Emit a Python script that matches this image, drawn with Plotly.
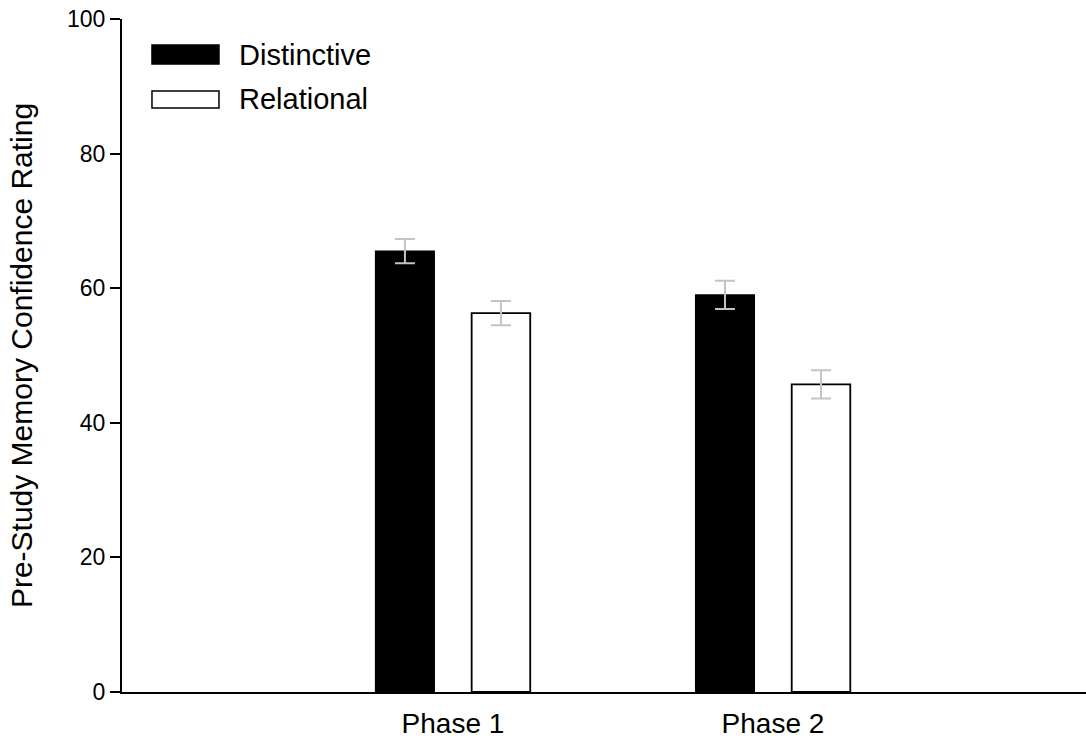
import plotly.graph_objects as go

phases = ["Phase 1", "Phase 2"]
distinctive = [65.5, 59.0]
distinctive_err = [1.8, 2.1]
relational = [56.3, 45.7]
relational_err = [1.8, 2.1]
y_ticks = [0, 20, 40, 60, 80, 100]

FONT = "Liberation Sans, Arial, sans-serif"
ERR_COLOR = "#c4c4c4"

fig = go.Figure()
fig.add_trace(go.Bar(
    name="Distinctive", x=phases, y=distinctive,
    marker=dict(color="black", line=dict(color="black", width=1.5)),
    error_y=dict(type="data", array=distinctive_err, color=ERR_COLOR, thickness=2, width=10),
    showlegend=False,
))
fig.add_trace(go.Bar(
    name="Relational", x=phases, y=relational,
    marker=dict(color="white", line=dict(color="black", width=1.8)),
    error_y=dict(type="data", array=relational_err, color=ERR_COLOR, thickness=2, width=10),
    showlegend=False,
))

# manual legend (large swatches as in the reference)
legend_items = [("Distinctive", "black", 0.9331, 0.9614, 0.9465),
                ("Relational", "white", 0.8678, 0.8930, 0.8811)]
for label, col, y0, y1, yt in legend_items:
    fig.add_shape(type="rect", xref="paper", yref="paper",
                  x0=0.0311, x1=0.1006, y0=y0, y1=y1,
                  fillcolor=col, line=dict(color="black", width=1.5))
    fig.add_annotation(text=label, xref="paper", yref="paper", x=0.1193, y=yt,
                       xanchor="left", yanchor="middle", showarrow=False,
                       font=dict(family=FONT, size=29, color="black"))

fig.update_layout(
    width=1086, height=740,
    margin=dict(l=122, r=0, t=19, b=48),
    paper_bgcolor="white", plot_bgcolor="white",
    barmode="group", bargap=0.4, bargroupgap=0.39,
    font=dict(family=FONT, color="black"),
)
fig.update_xaxes(
    type="category", range=[-1.034, 1.978], automargin=False,
    showline=True, linecolor="black", linewidth=2,
    ticks="outside", ticklen=5, tickcolor="rgba(0,0,0,0)",
    tickfont=dict(family=FONT, size=28, color="black"),
    showgrid=False, zeroline=False,
)
fig.update_yaxes(
    range=[0, 100], tickvals=y_ticks, automargin=False,
    showline=True, linecolor="black", linewidth=2,
    ticks="outside", ticklen=10, tickwidth=1.5, tickcolor="black",
    tickfont=dict(family=FONT, size=23, color="black"),
    title=dict(text="Pre-Study Memory Confidence Rating",
               font=dict(family=FONT, size=30, color="black"), standoff=26),
    showgrid=False, zeroline=False,
)

fig.write_html("out.html")
